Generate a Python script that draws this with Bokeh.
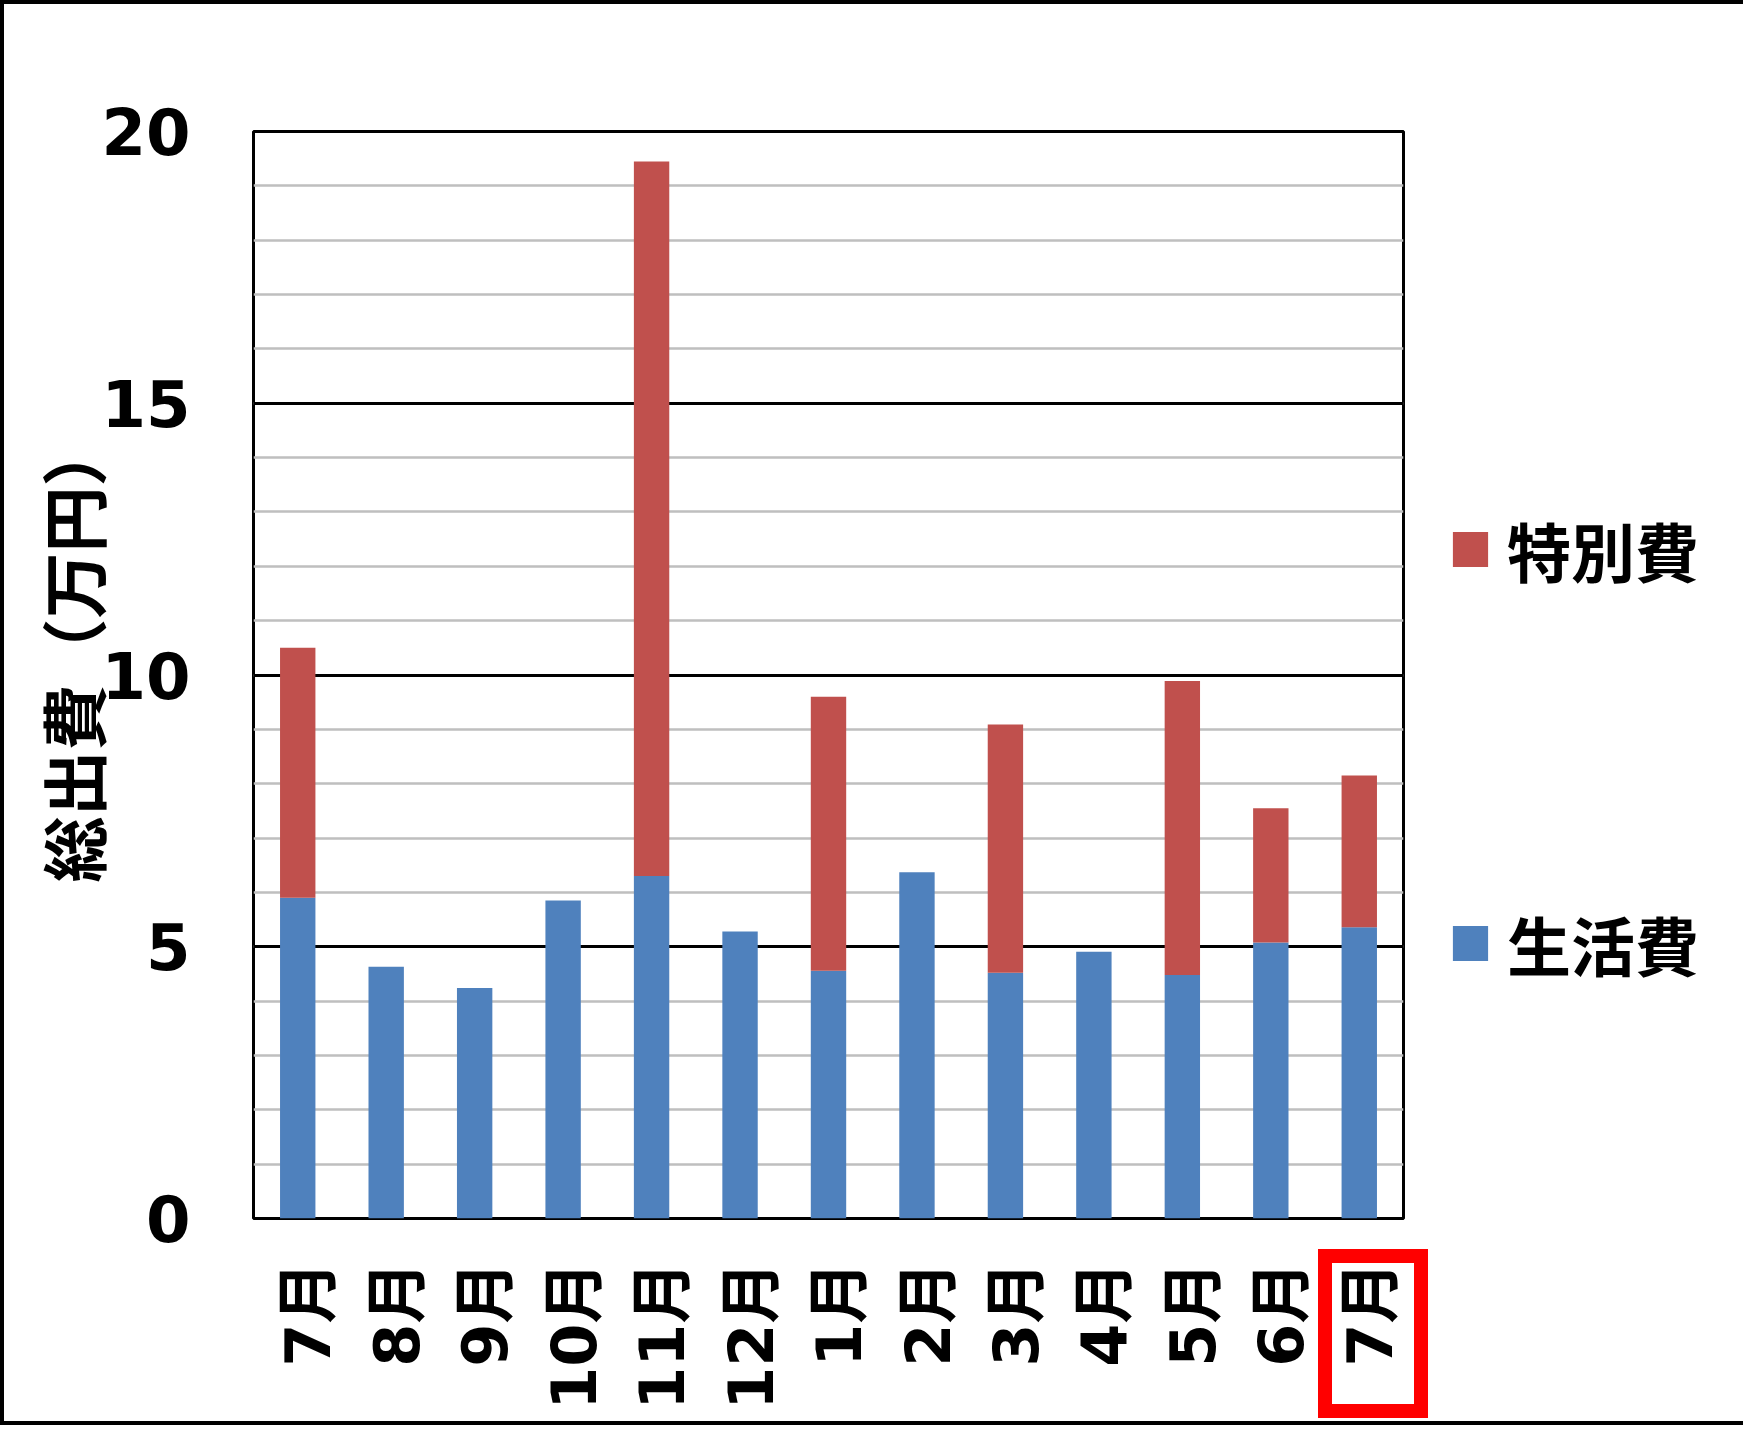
import math

from bokeh.plotting import figure
from bokeh.models import (ColumnDataSource,
                          Range1d,
                          FixedTicker,
                          SingleIntervalTicker,
                          Legend,
                          LegendItem,
                          Title,
                          InlineStyleSheet)
from bokeh.embed import file_html
from bokeh.resources import INLINE

# data (万円)
months = ["7月", "8月", "9月", "10月", "11月", "12月", "1月",
          "2月", "3月", "4月", "5月", "6月", "7月"]
living = [5.90, 4.63, 4.24, 5.85, 6.30, 5.28, 4.56,
          6.37, 4.52, 4.91, 4.48, 5.08, 5.36]
special = [4.60, 0.0, 0.0, 0.0, 13.15, 0.0, 5.04,
           0.0, 4.57, 0.0, 5.41, 2.47, 2.79]
series_names = ["生活費", "特別費"]
series_colors = ["#4F81BD", "#C0504D"]
y_title = "総出費（万円）"

x_pos = [i + 0.5 for i in range(len(months))]
source = ColumnDataSource(dict(x=x_pos, living=living, special=special))

JP_FONT = "'Noto Sans CJK JP'"
NUM_FONT = "'DejaVu Sans', 'Noto Sans CJK JP'"

# page geometry
WIDTH, HEIGHT = 1727, 1425
FRAME_L, FRAME_T = 253, 131
FRAME_W, FRAME_H = 1150, 1087

p = figure(frame_width=FRAME_W, frame_height=FRAME_H,
           min_border_left=FRAME_L,
           min_border_right=WIDTH - FRAME_L - FRAME_W,
           min_border_top=FRAME_T,
           min_border_bottom=HEIGHT - FRAME_T - FRAME_H,
           x_range=Range1d(0, len(months)), y_range=Range1d(0, 20),
           tools="", toolbar_location=None, output_backend="svg")

p.background_fill_color = "white"
p.border_fill_color = "white"
p.outline_line_color = "black"
p.outline_line_width = 3

# stacked bars
bars = p.vbar_stack(["living", "special"], x="x", width=0.4,
                    fill_color=series_colors, line_color=None,
                    source=source)

# y axis
p.yaxis.ticker = SingleIntervalTicker(interval=5, num_minor_ticks=5)
p.yaxis.major_label_text_font = NUM_FONT
p.yaxis.major_label_text_font_size = "64px"
p.yaxis.major_label_text_font_style = "bold"
p.yaxis.major_label_text_color = "black"
p.yaxis.major_label_standoff = 57
p.yaxis.major_tick_line_color = None
p.yaxis.minor_tick_line_color = None
p.yaxis.axis_line_color = None

# y title, started from the bottom so its ink sits centred like the original
p.add_layout(Title(text=y_title, align="left", offset=336, standoff=-41,
                   text_font=JP_FONT, text_font_size="66px",
                   text_font_style="bold", text_color="black"), "left")

# x axis: month labels, reading upwards
tick_pos = [x + 0.125 for x in x_pos]
p.xaxis.ticker = FixedTicker(ticks=tick_pos)
p.xaxis.major_label_overrides = {t: m for t, m in zip(tick_pos, months)}
p.xaxis.major_label_orientation = math.pi / 2
p.xaxis.major_label_text_font = NUM_FONT
p.xaxis.major_label_text_font_size = "62px"
p.xaxis.major_label_text_font_style = "bold"
p.xaxis.major_label_text_color = "black"
p.xaxis.major_label_standoff = 37
p.xaxis.major_tick_line_color = None
p.xaxis.minor_tick_line_color = None
p.xaxis.axis_line_color = None

# grid
p.xgrid.grid_line_color = None
p.ygrid.grid_line_color = "black"
p.ygrid.grid_line_width = 3
p.ygrid.minor_grid_line_color = "#BFBFBF"
p.ygrid.minor_grid_line_width = 2.5

# legend in the right panel, 特別費 above 生活費
legend = Legend(items=[LegendItem(label=series_names[1], renderers=[bars[1]]),
                       LegendItem(label=series_names[0], renderers=[bars[0]])],
                location=(45, 229))
legend.label_text_font = JP_FONT
legend.label_text_font_size = "64px"
legend.label_text_font_style = "bold"
legend.label_text_color = "black"
legend.glyph_width = 44
legend.glyph_height = 44
legend.label_height = 72
legend.label_standoff = 15
legend.spacing = 302
legend.padding = 0
legend.margin = 0
legend.border_line_color = None
legend.background_fill_alpha = 0
p.add_layout(legend, "right")

# outer frame of the picture and red box round the latest month label
px_per_month = FRAME_W / len(months)
box_cx = FRAME_L + tick_pos[-1] * px_per_month + 4
box_left = int(box_cx - 55)
box_top = FRAME_T + FRAME_H + 31
css = f"""
:host::before {{
  content: ""; position: absolute; left: 0; top: 0;
  width: 100%; height: 100%; box-sizing: border-box;
  border: 4px solid black; z-index: 100; pointer-events: none;
}}
:host::after {{
  content: ""; position: absolute; left: {box_left}px; top: {box_top}px;
  width: 110px; height: 169px; box-sizing: border-box;
  border: 14px solid #FF0000; z-index: 100; pointer-events: none;
}}
"""
p.stylesheets = [InlineStyleSheet(css=css)]

open("out.html", "w").write(file_html(p, INLINE))
